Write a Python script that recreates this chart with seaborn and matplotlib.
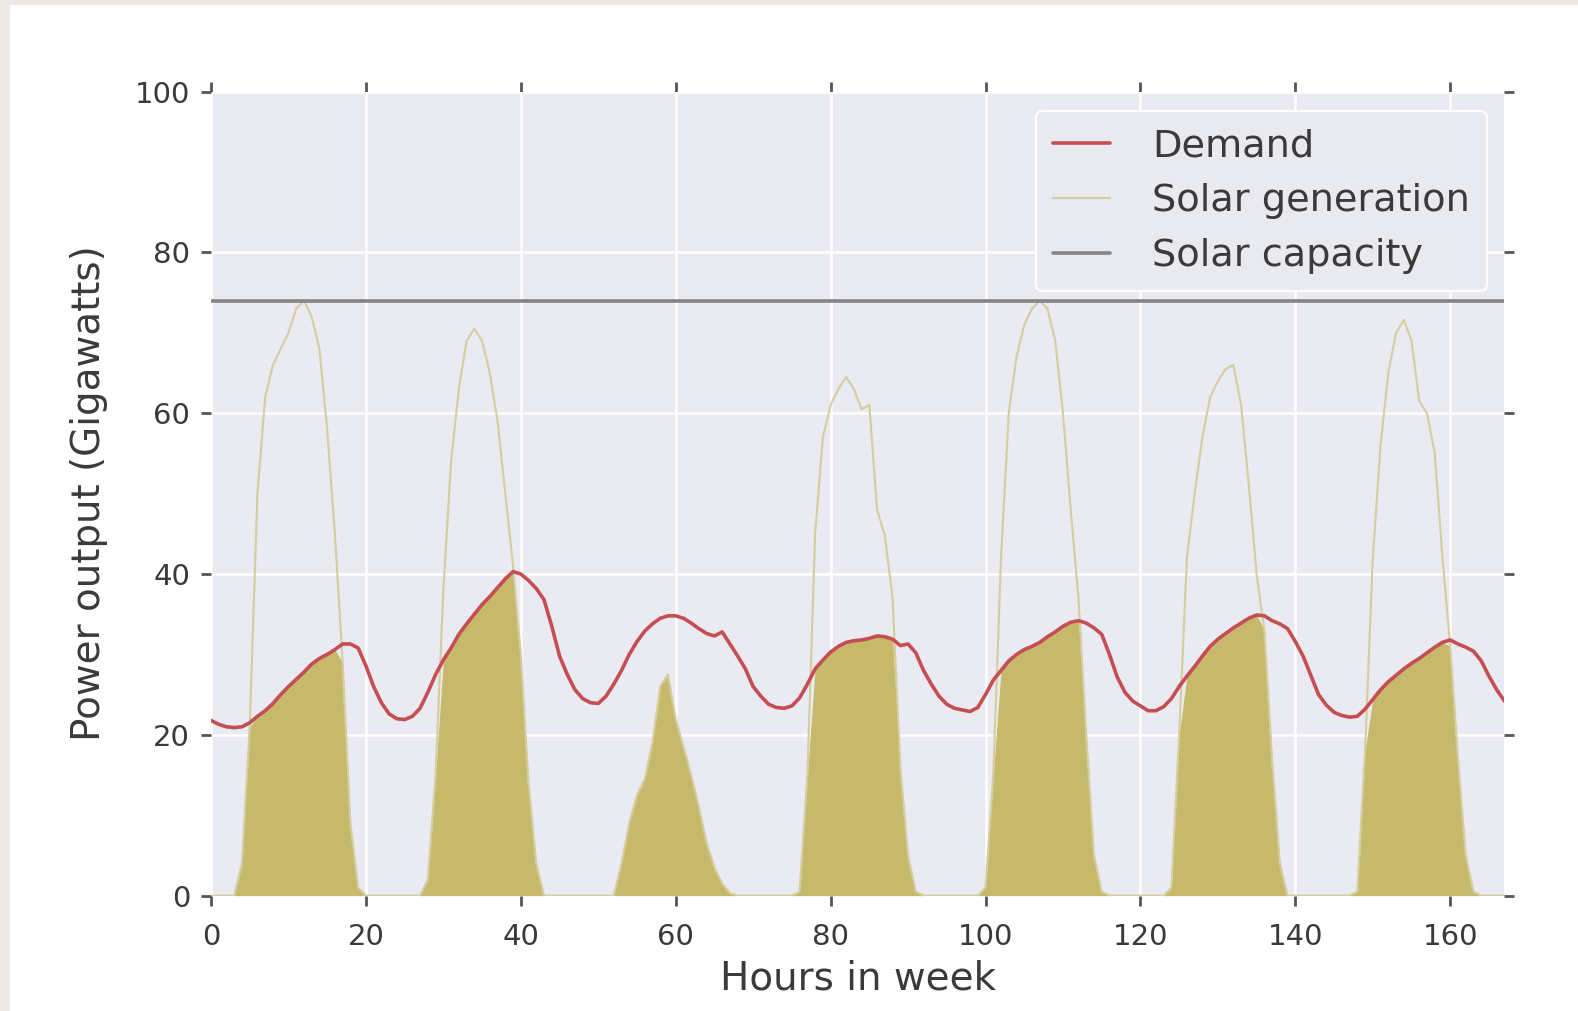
import numpy as np
import pandas as pd
import matplotlib
matplotlib.use("Agg")
import matplotlib.pyplot as plt
import seaborn as sns
from matplotlib.patches import Rectangle

# ---------------- data ----------------
hours = list(range(168))

demand = [
    21.8, 21.3, 21.0, 20.9, 21.0, 21.5, 22.3, 23.0, 23.9, 25.0, 26.0, 26.9,
    27.8, 28.8, 29.5, 30.0, 30.6, 31.3, 31.3, 30.8, 28.6, 26.0, 24.0, 22.6,
    22.0, 21.9, 22.3, 23.3, 25.3, 27.5, 29.3, 30.8, 32.5, 33.8, 35.0, 36.2,
    37.2, 38.3, 39.4, 40.3, 40.0, 39.2, 38.2, 36.8, 33.5, 29.8, 27.5, 25.6,
    24.5, 24.0, 23.9, 24.8, 26.3, 28.0, 30.0, 31.6, 32.9, 33.8, 34.5, 34.8,
    34.8, 34.5, 33.9, 33.2, 32.6, 32.3, 32.8, 31.3, 29.8, 28.2, 26.0, 24.8,
    23.8, 23.4, 23.3, 23.6, 24.6, 26.3, 28.2, 29.3, 30.3, 31.0, 31.5, 31.7,
    31.8, 32.0, 32.3, 32.2, 31.9, 31.1, 31.3, 30.2, 28.0, 26.3, 24.8, 23.8,
    23.3, 23.1, 22.9, 23.4, 25.0, 26.8, 28.0, 29.2, 30.0, 30.6, 31.0, 31.5,
    32.2, 32.8, 33.5, 34.0, 34.2, 33.9, 33.3, 32.5, 30.0, 27.2, 25.3, 24.2,
    23.6, 23.0, 23.0, 23.5, 24.5, 26.0, 27.3, 28.5, 29.8, 31.0, 31.9, 32.6,
    33.3, 33.9, 34.5, 34.9, 34.8, 34.2, 33.8, 33.2, 31.6, 29.8, 27.4, 25.0,
    23.7, 22.8, 22.4, 22.2, 22.3, 23.2, 24.4, 25.6, 26.6, 27.4, 28.2, 28.9,
    29.5, 30.2, 30.9, 31.5, 31.8, 31.3, 30.9, 30.4, 29.2, 27.3, 25.6, 24.2,
]

solar = [
    0, 0, 0, 0, 4, 21, 50, 62, 66, 68, 70, 73,
    74, 72, 68, 58, 45, 29, 9, 1, 0, 0, 0, 0,
    0, 0, 0, 0, 2, 15, 38, 54, 63, 69, 70.5, 69,
    65, 59, 50, 41, 30, 14, 4, 0, 0, 0, 0, 0,
    0, 0, 0, 0, 0, 4, 9, 12.5, 14.5, 19, 26, 27.5,
    22, 18.5, 15, 11, 6.5, 3.5, 1.5, 0.3, 0, 0, 0, 0,
    0, 0, 0, 0, 0.5, 15, 45, 57, 61, 63, 64.5, 63,
    60.5, 61, 48, 44.8, 37, 16, 5, 0.5, 0, 0, 0, 0,
    0, 0, 0, 0, 1, 15, 42, 60, 67, 71, 73, 74,
    73, 69, 60, 48, 37, 20, 5, 0.5, 0, 0, 0, 0,
    0, 0, 0, 0, 1, 20, 42, 50, 57, 62, 64, 65.5,
    66, 61, 51, 40, 33, 17, 4, 0, 0, 0, 0, 0,
    0, 0, 0, 0, 0.5, 18, 42, 56, 65, 70, 71.6, 69,
    61.5, 60, 55, 42, 31, 17, 5, 0.5, 0, 0, 0, 0,
]

solar_capacity = 74.0

series_labels = ["Demand", "Solar generation", "Solar capacity"]
x_ticks = [0, 20, 40, 60, 80, 100, 120, 140, 160]
y_ticks = [0, 20, 40, 60, 80, 100]

df = pd.DataFrame({"hour": hours, "demand": demand, "solar": solar,
                   "capacity": [solar_capacity] * len(hours)})
df["used"] = np.minimum(df["demand"], df["solar"])

# ---------------- style ----------------
sns.set_style("darkgrid", {"axes.facecolor": "#EAEAF2", "grid.color": "white"})
plt.rcParams["font.family"] = ["DejaVu Sans"]

red = "#C44E52"
gray = "#858585"
txt = "#3a3a3a"

fig = plt.figure(figsize=(15.78, 10.11), dpi=100)
fig.patch.set_facecolor("white")
# light screenshot frame at left / top
fig.patches.append(Rectangle((0, 0), 10 / 1578, 1, transform=fig.transFigure,
                             facecolor="#ECE8E4", edgecolor="none", zorder=0))
fig.patches.append(Rectangle((0, 1 - 5 / 1011), 1, 5 / 1011, transform=fig.transFigure,
                             facecolor="#ECE8E4", edgecolor="none", zorder=0))

ax = fig.add_axes([0.1337, 0.1141, 0.8197, 0.7953])

ax.fill_between(df["hour"], 0, df["used"], color="#C6B96C", linewidth=0, zorder=2)
sns.lineplot(data=df, x="hour", y="demand", ax=ax, color=red, linewidth=2.6,
             label=series_labels[0], zorder=4)
sns.lineplot(data=df, x="hour", y="solar", ax=ax, color="#D6CD9F", linewidth=1.5,
             label=series_labels[1], zorder=3)
sns.lineplot(data=df, x="hour", y="capacity", ax=ax, color=gray, linewidth=2.6,
             label=series_labels[2], zorder=3)

ax.set_xlim(0, 167)
ax.set_ylim(0, 100)
ax.set_xticks(x_ticks)
ax.set_yticks(y_ticks)
ax.grid(True, color="white", linewidth=1.8)
for s in ax.spines.values():
    s.set_visible(False)

ax.tick_params(axis="both", which="major", direction="out", length=7, width=2,
               color="#555555", labelsize=21, labelcolor=txt, pad=8,
               top=True, right=True, left=True, bottom=True)
ax.tick_params(axis="x", pad=13)

ax.set_xlabel("Hours in week", fontsize=28, color=txt, labelpad=6)
ax.set_ylabel("Power output (Gigawatts)", fontsize=28, color=txt, labelpad=19)

leg = ax.legend(loc="upper right", fontsize=27.5, frameon=True, facecolor="#E9E9F0",
                edgecolor="white", framealpha=1.0, handlelength=1.5,
                handletextpad=1.1, labelspacing=0.5, borderpad=0.45,
                borderaxespad=0.0, bbox_to_anchor=(0.9868, 0.976))
for t in leg.get_texts():
    t.set_color(txt)
leg.get_frame().set_linewidth(1.5)

fig.savefig("out.png", dpi=100, facecolor=fig.get_facecolor())
